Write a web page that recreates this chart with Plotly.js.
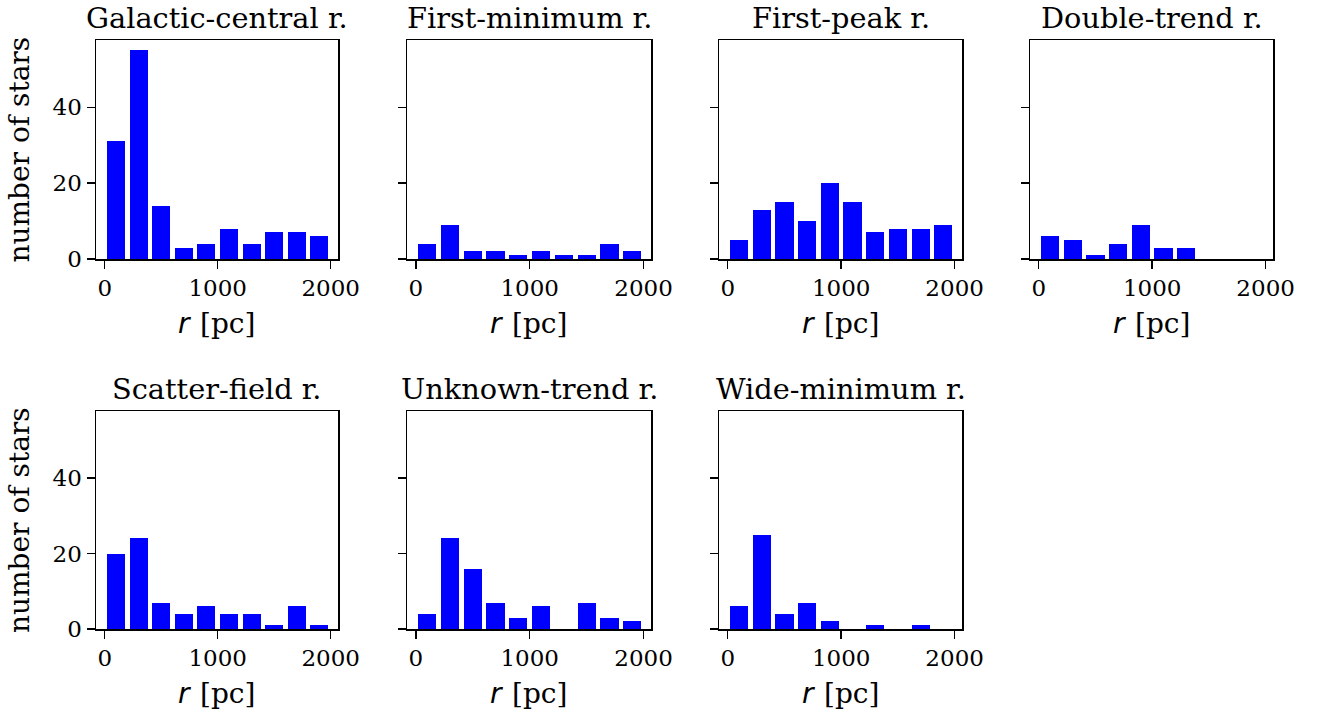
<!DOCTYPE html>
<html>
<head>
<meta charset="utf-8">
<script src="https://cdn.plot.ly/plotly-3.0.1.min.js"></script>
<style>
  html, body { margin: 0; padding: 0; background: #ffffff; }
  #chart { width: 1319px; height: 717px; }
</style>
</head>
<body>
<div id="chart"></div>
<script>
// ---- data ----
const panelTitles = [
  "Galactic-central r.", "First-minimum r.", "First-peak r.", "Double-trend r.",
  "Scatter-field r.", "Unknown-trend r.", "Wide-minimum r."
];
const binCenters = [100, 300, 500, 700, 900, 1100, 1300, 1500, 1700, 1900];
const galacticCentral = [31, 55, 14, 3, 4, 8, 4, 7, 7, 6];
const firstMinimum   = [4, 9, 2, 2, 1, 2, 1, 1, 4, 2];
const firstPeak      = [5, 13, 15, 10, 20, 15, 7, 8, 8, 9];
const doubleTrend    = [6, 5, 1, 4, 9, 3, 3, 0, 0, 0];
const scatterField   = [20, 24, 7, 4, 6, 4, 4, 1, 6, 1];
const unknownTrend   = [4, 24, 16, 7, 3, 6, 0, 7, 3, 2];
const wideMinimum    = [6, 25, 4, 7, 2, 0, 1, 0, 1, 0];
const xTickVals = [0, 1000, 2000];
const yTickVals = [0, 20, 40];
const xLabelVar = "r";
const xLabelUnit = "[pc]";
const yLabel = "number of stars";

const series = [galacticCentral, firstMinimum, firstPeak, doubleTrend,
                scatterField, unknownTrend, wideMinimum];

// ---- layout geometry (pixels) ----
const W = 1319, H = 717;
const colPx = [[96, 338], [407, 651], [719, 962], [1030, 1273]];
const rowPx = [[40, 259], [411, 629]];
const FONT = "DejaVu Serif";
const TICK_SIZE = 23, TITLE_SIZE = 28.8, LABEL_SIZE = 28;

const traces = [];
const layout = {
  width: W, height: H,
  margin: {l: 0, r: 0, t: 0, b: 0},
  paper_bgcolor: "#ffffff", plot_bgcolor: "#ffffff",
  showlegend: false,
  font: {family: FONT, size: TICK_SIZE, color: "#000000"},
  bargap: 0,
  annotations: []
};

series.forEach((vals, i) => {
  const row = Math.floor(i / 4), col = i % 4;
  const n = i + 1;
  const xa = n === 1 ? "xaxis" : "xaxis" + n;
  const ya = n === 1 ? "yaxis" : "yaxis" + n;
  traces.push({
    type: "bar",
    x: binCenters,
    y: vals,
    width: 160,
    marker: {color: "#0000ff", line: {width: 0}},
    xaxis: "x" + (n === 1 ? "" : n),
    yaxis: "y" + (n === 1 ? "" : n),
    hoverinfo: "x+y"
  });
  const [x0, x1] = colPx[col];
  const [y0, y1] = rowPx[row];
  layout[xa] = {
    domain: [x0 / W, x1 / W],
    anchor: "y" + (n === 1 ? "" : n),
    range: [-77, 2065],
    tickvals: xTickVals,
    ticktext: xTickVals.map(String),
    ticks: "outside", ticklen: 8, tickwidth: 1.5, tickcolor: "#000",
    showline: true, linecolor: "#000", linewidth: 1.5, mirror: true,
    showgrid: false, zeroline: false,
    tickfont: {family: FONT, size: TICK_SIZE, color: "#000"},
    fixedrange: true
  };
  layout[ya] = {
    domain: [1 - y1 / H, 1 - y0 / H],
    anchor: "x" + (n === 1 ? "" : n),
    range: [0, 57.75],
    tickvals: yTickVals,
    ticktext: col === 0 ? yTickVals.map(String) : ["", "", ""],
    ticks: "outside", ticklen: 8, tickwidth: 1.5, tickcolor: "#000",
    showline: true, linecolor: "#000", linewidth: 1.5, mirror: true,
    showgrid: false, zeroline: false,
    tickfont: {family: FONT, size: TICK_SIZE, color: "#000"},
    fixedrange: true
  };
  const cxPx = (x0 + x1) / 2;
  const cx = cxPx / W;
  // panel title
  layout.annotations.push({
    text: panelTitles[i], xref: "paper", yref: "paper",
    x: cx, y: 1 - (y0 - 40) / H, xanchor: "center", yanchor: "top",
    borderpad: 0,
    showarrow: false, font: {family: FONT, size: TITLE_SIZE, color: "#000"}
  });
  // x-axis title: italic variable (sans, like mathtext) + serif unit
  const labY = 1 - (y1 + 64) / H;
  layout.annotations.push({
    text: xLabelVar, xref: "paper", yref: "paper",
    x: (cxPx - 24) / W, y: labY, xanchor: "right", yanchor: "middle",
    showarrow: false,
    font: {family: "DejaVu Sans", style: "italic", size: LABEL_SIZE, color: "#000"}
  });
  layout.annotations.push({
    text: xLabelUnit, xref: "paper", yref: "paper",
    x: (cxPx - 19) / W, y: labY, xanchor: "left", yanchor: "middle",
    showarrow: false, font: {family: FONT, size: LABEL_SIZE, color: "#000"}
  });
  // y-axis title on first column
  if (col === 0) {
    layout.annotations.push({
      text: yLabel, xref: "paper", yref: "paper",
      x: 19 / W, y: 1 - (y0 + y1) / 2 / H, xanchor: "center", yanchor: "middle",
      textangle: -90,
      showarrow: false, font: {family: FONT, size: LABEL_SIZE, color: "#000"}
    });
  }
});

Plotly.newPlot("chart", traces, layout, {displayModeBar: false, staticPlot: true});
</script>
</body>
</html>
